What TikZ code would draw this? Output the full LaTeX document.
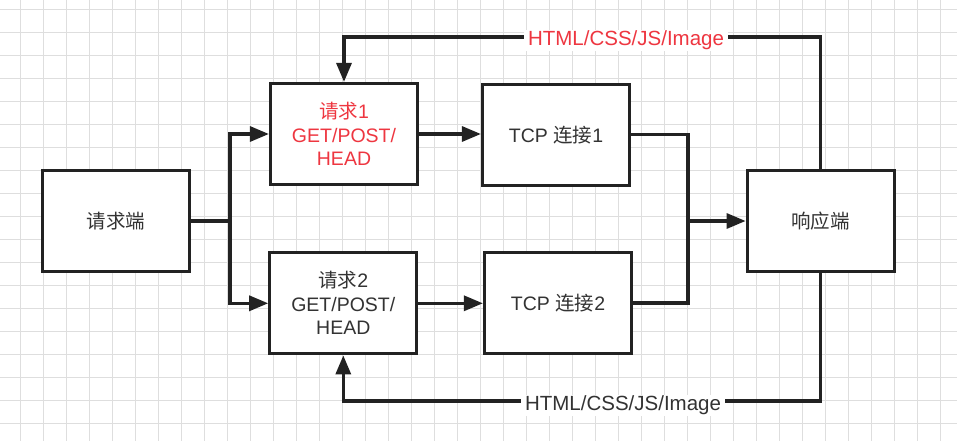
\documentclass[tikz,border=0pt]{standalone}
\usepackage{fontspec}
\setmainfont{Liberation Sans}
\newfontfamily\cjk{Noto Sans CJK SC}
\usetikzlibrary{arrows.meta}
\definecolor{ink}{HTML}{333333}
\definecolor{linec}{HTML}{222222}
\definecolor{redt}{HTML}{EE3640}
\definecolor{gridc}{HTML}{DEDEDE}
\begin{document}
\begin{tikzpicture}[x=1pt,y=-1pt,
  box/.style={draw=linec, line width=3.2pt, fill=white, minimum width=147pt, minimum height=101pt, inner sep=0pt, align=center, font=\fontsize{19.5}{23.5}\selectfont, text=ink},
  conn/.style={draw=linec, line width=3.2pt},
  arr/.style={conn, -{Triangle[length=19pt,width=15pt]}},
  lbl/.style={fill=white, inner xsep=4pt, inner ysep=1pt, font=\fontsize{20.5}{24}\selectfont}
]
\useasboundingbox (0,0) rectangle (957,441);
\fill[white] (0,0) rectangle (957,441);
\foreach \k in {0,...,40} \draw[gridc, line width=1pt] ({20+23*\k},0) -- ({20+23*\k},441);
\foreach \k in {0,...,18} \draw[gridc, line width=1pt] (0,{9.3+23*\k}) -- (957,{9.3+23*\k});

\node[box] (req) at (115.8,221) {\cjk 请求端};
\node[box, text=redt] (r1) at (344,134) {{\cjk 请求}1\\GET/POST/\\HEAD};
\node[box] (r2) at (343.3,303.3) {{\cjk 请求}2\\GET/POST/\\HEAD};
\node[box] (t1) at (556,134.7) {TCP {\cjk 连接}1};
\node[box] (t2) at (558,303) {TCP {\cjk 连接}2};
\node[box] (resp) at (820.7,221) {\cjk 响应端};

\coordinate (split) at (230,221);
\coordinate (merge) at (688,221);
\coordinate (topy) at (0,37);
\coordinate (boty) at (0,401);

\draw[conn] (req.east) -- (split);
\draw[arr] (split) |- (r1.west);
\draw[arr] (split) |- (r2.west);
\draw[arr] (r1.east) -- (r1.east -| t1.west);
\draw[arr] (r2.east) -- (r2.east -| t2.west);
\draw[conn] (t1.east) -| (merge);
\draw[conn] (t2.east) -| (merge);
\draw[arr] (merge) -- (resp.west);
\draw[arr] (resp.north) |- (topy -| r1.north) -- (r1.north);
\draw[arr] (resp.south) |- (boty -| r2.south) -- (r2.south);

\node[lbl, text=redt, anchor=base] (l1) at (626,45.7) {HTML/CSS/JS/Image};
\node[lbl, text=ink, anchor=base] (l2) at (623,410.7) {HTML/CSS/JS/Image};
\end{tikzpicture}
\end{document}
